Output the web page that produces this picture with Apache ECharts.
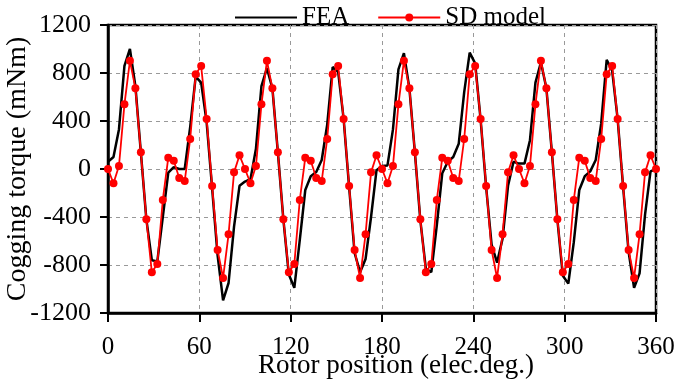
<!DOCTYPE html>
<html>
<head>
<meta charset="utf-8">
<script src="https://cdn.jsdelivr.net/npm/echarts@6/dist/echarts.min.js"></script>
<style>
html,body{margin:0;padding:0;background:#fff;}
#chart{width:674px;height:385px;}
</style>
</head>
<body>
<div id="chart"></div>
<script>
// Rotor positions (elec. deg.)
var positions = [0,3.6,7.2,10.8,14.4,18,21.6,25.2,28.8,32.4,36,39.6,43.2,46.8,50.4,54,57.6,61.2,64.8,68.4,72,75.6,79.2,82.8,86.4,90,93.6,97.2,100.8,104.4,108,111.6,115.2,118.8,122.4,126,129.6,133.2,136.8,140.4,144,147.6,151.2,154.8,158.4,162,165.6,169.2,172.8,176.4,180,183.6,187.2,190.8,194.4,198,201.6,205.2,208.8,212.4,216,219.6,223.2,226.8,230.4,234,237.6,241.2,244.8,248.4,252,255.6,259.2,262.8,266.4,270,273.6,277.2,280.8,284.4,288,291.6,295.2,298.8,302.4,306,309.6,313.2,316.8,320.4,324,327.6,331.2,334.8,338.4,342,345.6,349.2,352.8,356.4,360];

// FEA cogging torque (mNm)
var feaValues = [60,100,330,860,1000,690,136,-420,-760,-770,-400,-30,15,0,0,350,770,720,390,-160,-720,-1095,-950,-480,-140,
-105,-85,170,690,840,672,139,-419,-880,-990,-590,-175,-60,-25,75,370,850,810,417,-150,-700,-860,-750,-400,-10,
25,30,330,830,965,672,139,-430,-830,-860,-470,-35,60,100,210,640,970,880,410,-150,-630,-780,-580,-140,60,
45,45,240,720,890,672,139,-419,-890,-955,-610,-175,-60,-20,75,380,910,820,417,-150,-690,-990,-870,-380,-20,
0];

// SD model cogging torque (mNm)
var sdValues = [0,-119,25,539,902,672,139,-419,-861,-792,-258,94,69,-75,-100,250,789,858,417,-142,-675,-908,-544,-28,114,
0,-119,25,539,902,672,139,-419,-861,-792,-258,94,69,-75,-100,250,789,858,417,-142,-675,-908,-544,-28,114,
0,-119,25,539,902,672,139,-419,-861,-792,-258,94,69,-75,-100,250,789,858,417,-142,-675,-908,-544,-28,114,
0,-119,25,539,902,672,139,-419,-861,-792,-258,94,69,-75,-100,250,789,858,417,-142,-675,-908,-544,-28,114,
0];

var xTicks = [0,60,120,180,240,300,360];
var yTicks = [-1200,-800,-400,0,400,800,1200];

function pairs(xs, ys){ var out=[]; for(var i=0;i<xs.length;i++){ out.push([xs[i], ys[i]]); } return out; }

var font = '"Liberation Serif","Times New Roman",serif';
var chart = echarts.init(document.getElementById('chart'), null, {renderer:'canvas'});
chart.setOption({
  animation:false,
  backgroundColor:'#fff',
  legend:{
    left:229, top:0,
    itemWidth:62, itemHeight:10, itemGap:28,
    textStyle:{fontFamily:font, fontSize:25, color:'#000'},
    data:[{name:'FEA', itemStyle:{opacity:0}}, {name:'SD model'}]
  },
  grid:{left:108, right:18, top:25, bottom:72, containLabel:false, outerBoundsMode:'none',
        show:true, borderColor:'#000', borderWidth:2.5, backgroundColor:'transparent'},
  xAxis:{
    type:'value', min:xTicks[0], max:xTicks[xTicks.length-1], interval:60,
    name:'Rotor position (elec.deg.)', nameLocation:'middle', nameGap:39, nameMoveOverlap:false,
    nameTextStyle:{fontFamily:font, fontSize:27, color:'#000', padding:[0,0,0,28]},
    axisLine:{show:true, onZero:false, lineStyle:{color:'#000', width:2.5}},
    axisTick:{show:true, inside:false, length:9, lineStyle:{color:'#000', width:2}},
    axisLabel:{fontFamily:font, fontSize:25, color:'#000', margin:22, formatter:function(v){return String(v);}},
    splitLine:{show:true, lineStyle:{color:'#999', type:[4,4], width:1}}
  },
  yAxis:{
    type:'value', min:yTicks[0], max:yTicks[yTicks.length-1], interval:400,
    name:'Cogging torque (mNm)', nameLocation:'middle', nameGap:76, nameRotate:90, nameMoveOverlap:false,
    nameTextStyle:{fontFamily:font, fontSize:28, color:'#000'},
    axisLine:{show:true, onZero:false, lineStyle:{color:'#000', width:2.5}},
    axisTick:{show:true, inside:false, length:8, lineStyle:{color:'#000', width:2}},
    axisLabel:{fontFamily:font, fontSize:26, color:'#000', margin:17, formatter:function(v){return String(v);}},
    splitLine:{show:true, lineStyle:{color:'#999', type:[4,4], width:1}}
  },
  series:[
    {
      name:'FEA', type:'line', data:pairs(positions, feaValues),
      symbol:'none', showSymbol:false,
      lineStyle:{color:'#000', width:2.5}, itemStyle:{color:'#000'}, z:2
    },
    {
      name:'SD model', type:'line', data:pairs(positions, sdValues),
      symbol:'circle', symbolSize:8, showSymbol:true,
      lineStyle:{color:'#ff0000', width:1.8}, itemStyle:{color:'#ff0000'}, z:3
    }
  ]
});
</script>
</body>
</html>
